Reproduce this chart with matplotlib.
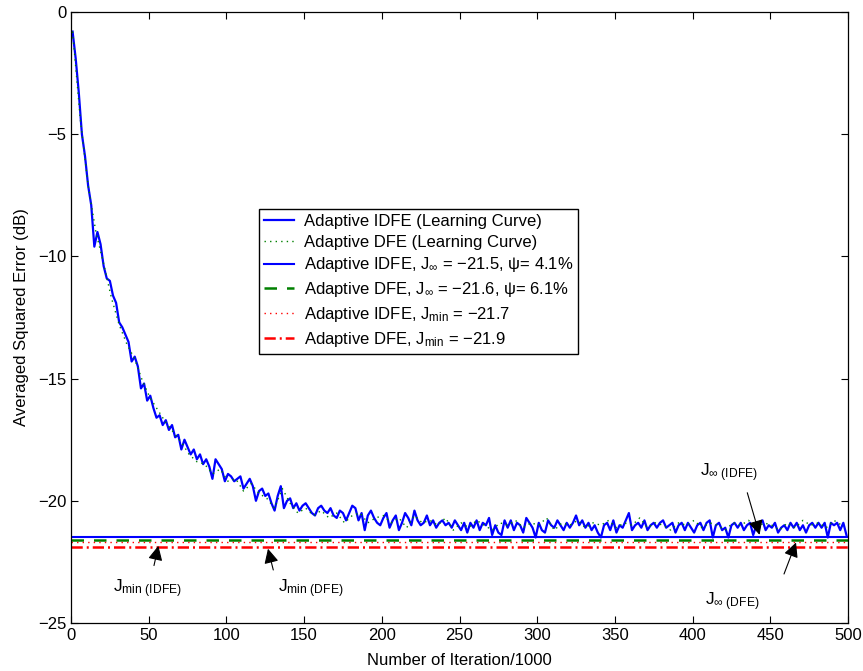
"""
Learning curves of adaptive IDFE vs DFE (averaged squared error in dB).
"""

import numpy as np
import matplotlib
matplotlib.use('Agg')
import matplotlib.pyplot as plt

plt.rcParams['font.family'] = ['Liberation Sans', 'DejaVu Sans']
plt.rcParams['mathtext.fontset'] = 'custom'
plt.rcParams['mathtext.rm'] = 'Liberation Sans'
plt.rcParams['mathtext.it'] = 'Liberation Sans:italic'
plt.rcParams['mathtext.bf'] = 'Liberation Sans:bold'
plt.rcParams['font.size'] = 12

# ---- data ----
# IDFE learning curve, sampled every 2 iterations (x1000), starting at 1
iter_idfe = np.arange(1, 500, 2)
mse_idfe = [
    -0.8, -1.9, -3.3, -5.0, -5.9, -7.1, -7.9, -9.6, -9.0, -9.5,
    -10.4, -10.9, -11.0, -11.6, -11.9, -12.7, -12.9, -13.2, -13.5, -14.3,
    -14.1, -14.5, -15.4, -15.2, -15.9, -15.7, -16.2, -16.6, -16.5, -16.9,
    -16.7, -17.1, -16.9, -17.4, -17.3, -17.9, -17.5, -17.8, -18.1, -17.9,
    -18.3, -18.1, -18.5, -18.3, -18.6, -19.1, -18.3, -18.5, -18.7, -19.2,
    -18.9, -19.0, -19.2, -19.1, -19.0, -19.5, -19.3, -19.1, -19.4, -20.0,
    -19.6, -19.5, -19.8, -19.7, -20.1, -20.4, -19.8, -19.4, -20.3, -20.0,
    -19.9, -20.3, -20.1, -20.4, -20.2, -20.1, -20.3, -20.5, -20.6, -20.3,
    -20.2, -20.4, -20.5, -20.3, -20.6, -20.7, -20.4, -20.5, -20.8, -20.5,
    -20.2, -20.3, -20.8, -20.5, -21.2, -20.6, -20.4, -20.7, -20.9, -21.0,
    -20.7, -20.5, -21.1, -20.8, -20.6, -21.2, -20.9, -20.5, -20.7, -21.0,
    -20.4, -20.8, -21.0, -20.9, -20.6, -21.0, -20.8, -21.1, -20.9, -20.8,
    -21.0, -20.9, -21.1, -20.8, -21.0, -21.2, -20.9, -21.3, -20.9, -21.1,
    -20.8, -21.2, -20.9, -21.0, -20.7, -21.4, -21.0, -21.3, -21.4, -20.8,
    -21.1, -20.8, -21.2, -20.9, -21.0, -21.3, -20.7, -20.9, -21.1, -21.5,
    -20.9, -21.2, -21.3, -20.8, -21.0, -21.1, -20.8, -21.0, -21.2, -20.9,
    -21.1, -20.9, -20.6, -21.0, -20.8, -21.1, -20.9, -21.2, -21.0, -21.3,
    -21.5, -21.0, -20.9, -21.2, -20.8, -21.3, -21.0, -21.1, -20.8, -20.5,
    -21.2, -21.0, -20.9, -21.1, -20.8, -21.2, -21.0, -20.9, -21.1, -20.9,
    -20.8, -21.1, -21.0, -20.9, -21.3, -21.0, -20.9, -21.2, -20.9, -21.1,
    -21.3, -21.0, -20.9, -21.2, -20.9, -20.8, -21.5, -21.0, -20.9, -21.2,
    -21.1, -21.5, -21.0, -20.9, -21.1, -20.9, -21.2, -21.0, -20.9, -21.4,
    -21.0, -20.9, -20.8, -21.2, -21.0, -21.1, -20.9, -21.3, -21.1, -21.0,
    -21.2, -20.9, -21.1, -20.9, -21.2, -21.0, -21.3, -21.0, -20.9, -21.1,
    -20.9, -21.1, -20.9, -21.5, -20.9, -21.0, -20.9, -21.2, -20.9, -21.4,
]

# DFE learning curve, sampled every 5 iterations (x1000), starting at 1
iter_dfe = np.arange(1, 500, 5)
mse_dfe = [
    -0.8, -4.4, -7.1, -9.0, -10.3, -11.7, -12.8, -13.6, -14.2, -15.1,
    -15.8, -16.3, -16.8, -17.2, -17.6, -18.1, -18.4, -18.5, -18.9, -18.7,
    -19.2, -19.1, -19.6, -19.3, -19.7, -19.9, -20.3, -19.5, -20.1, -20.5,
    -20.3, -20.6, -20.4, -20.7, -20.5, -20.9, -20.6, -20.5, -20.9, -20.7,
    -20.6, -20.9, -20.7, -21.1, -20.6, -20.9, -20.8, -21.0, -20.7, -21.2,
    -20.9, -21.1, -20.8, -21.0, -21.2, -20.9, -21.0, -20.8, -21.1, -20.9,
    -21.0, -20.7, -21.2, -20.9, -21.0, -20.8, -21.1, -20.9, -21.0, -20.8,
    -21.1, -20.9, -21.0, -20.7, -21.1, -20.9, -21.0, -21.2, -20.9, -21.0,
    -20.8, -21.1, -20.9, -21.0, -21.2, -20.9, -21.0, -20.8, -21.1, -20.9,
    -21.0, -21.2, -20.9, -21.1, -20.8, -21.0, -20.9, -21.1, -20.8, -21.0,
]

# steady-state / minimum levels (dB)
j_inf_idfe = -21.5
j_inf_dfe = -21.6
j_min_idfe = -21.7
j_min_dfe = -21.9

fig = plt.figure(figsize=(8.63, 6.71), dpi=100)
ax = fig.add_axes([0.0823, 0.0715, 0.9003, 0.9106])

ax.plot(iter_idfe, mse_idfe, color='#0000ff', lw=1.6,
        label='Adaptive IDFE (Learning Curve)')
ax.plot(iter_dfe, mse_dfe, color='#008000', lw=1.0, linestyle=(0, (1, 3)),
        label='Adaptive DFE (Learning Curve)')
ax.axhline(j_inf_idfe, color='#0000ff', lw=1.5,
           label='Adaptive IDFE, J$_{\\infty}$ = \u221221.5, \u03c8= 4.1%')
ax.axhline(j_inf_dfe, color='#008000', lw=1.8, linestyle=(0, (5, 4)),
           label='Adaptive DFE, J$_{\\infty}$ = \u221221.6, \u03c8= 6.1%')
ax.axhline(j_min_idfe, color='#ff0000', lw=1.0, linestyle=(0, (1, 3)),
           label='Adaptive IDFE, J$_{\\mathrm{min}}$ = \u221221.7')
ax.axhline(j_min_dfe, color='#ff0000', lw=1.8, linestyle=(0, (4.5, 1.6, 0.8, 1.6)),
           label='Adaptive DFE, J$_{\\mathrm{min}}$ = \u221221.9')

ax.set_xlim(0, 500)
ax.set_ylim(-25, 0)
ax.set_xticks(np.arange(0, 501, 50))
ax.set_yticks(np.arange(-25, 1, 5))
ax.tick_params(direction='in', top=True, right=True, length=5, width=0.8, labelsize=12)
for sp in ax.spines.values():
    sp.set_linewidth(0.9)

ax.set_xlabel('Number of Iteration/1000', fontsize=12, labelpad=7)
ax.set_ylabel('Averaged Squared Error (dB)', fontsize=12, labelpad=6)

leg = ax.legend(loc='upper left', bbox_to_anchor=(0.242, 0.678), borderaxespad=0,
                fontsize=12, fancybox=False, edgecolor='black', framealpha=1,
                handlelength=1.8, handletextpad=0.6, labelspacing=0.35,
                borderpad=0.3)
leg.get_frame().set_linewidth(1.0)

# annotations with arrows
arrow = dict(arrowstyle='-|>', color='black', lw=0.8, mutation_scale=22)
ax.annotate('', xy=(56.6, -21.73), xytext=(53.0, -22.76), arrowprops=arrow)
ax.annotate('', xy=(126.3, -21.85), xytext=(130.6, -22.94), arrowprops=arrow)
ax.annotate('', xy=(443.6, -21.5), xytext=(434.7, -19.56), arrowprops=arrow)
ax.annotate('', xy=(467.2, -21.6), xytext=(458.2, -23.1), arrowprops=arrow)

ax.text(27.0, -23.73, 'J$_{\\mathrm{min\\ (IDFE)}}$', fontsize=12.5, va='baseline')
ax.text(133.2, -23.73, 'J$_{\\mathrm{min\\ (DFE)}}$', fontsize=12.5, va='baseline')
ax.text(404.8, -18.99, 'J$_{\\infty\\ \\mathrm{(IDFE)}}$', fontsize=12.5, va='baseline')
ax.text(408.0, -24.26, 'J$_{\\infty\\ \\mathrm{(DFE)}}$', fontsize=12.5, va='baseline')

fig.savefig('out.png', dpi=100)
